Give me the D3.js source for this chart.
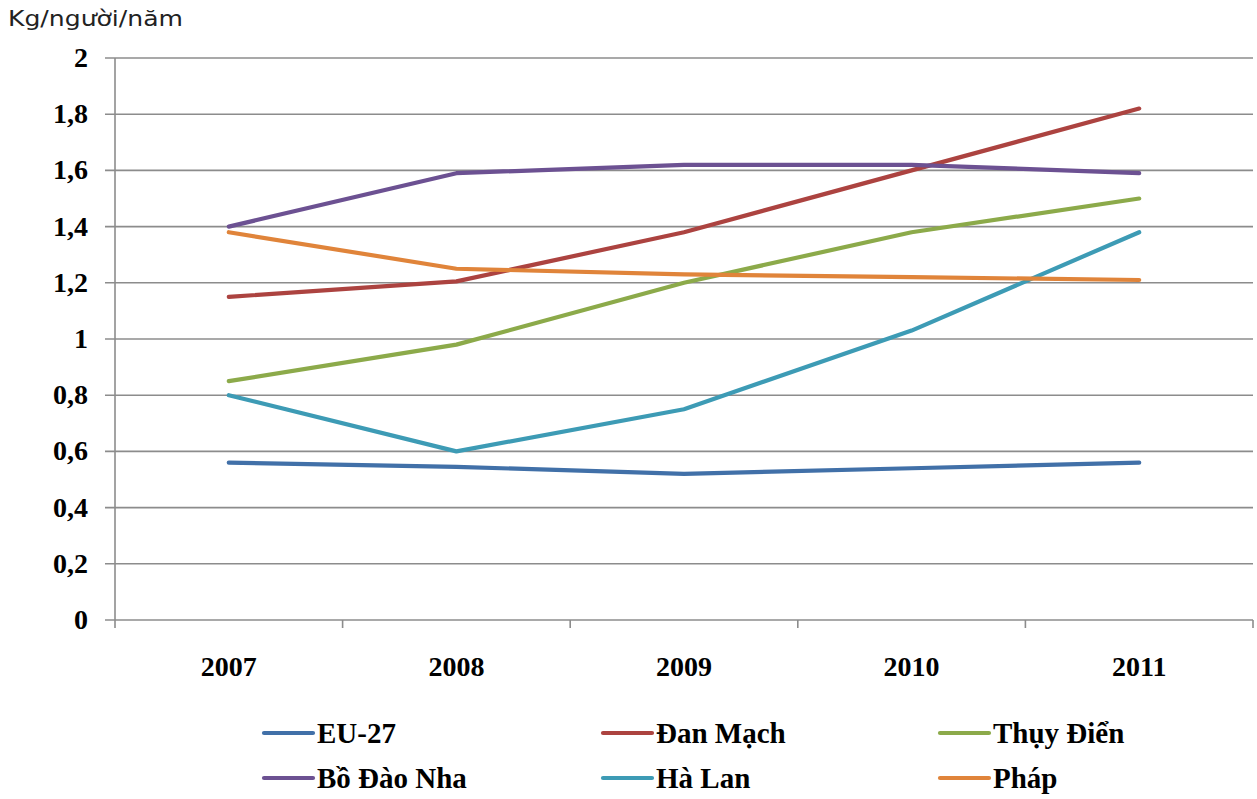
<!DOCTYPE html>
<html>
<head>
<meta charset="utf-8">
<script src="https://cdn.jsdelivr.net/npm/d3@7"></script>
<style>
  html, body { margin: 0; padding: 0; background: #fff; }
  svg { display: block; }
</style>
</head>
<body>
<svg id="chart" width="1257" height="799"></svg>
<script>
// Years on the category axis
const years = ["2007", "2008", "2009", "2010", "2011"];

// Consumption per person per year (kg)
const eu27      = [0.56, 0.545, 0.52, 0.54, 0.56];
const danMach   = [1.15, 1.205, 1.38, 1.60, 1.82];
const thuyDien  = [0.85, 0.98, 1.20, 1.38, 1.50];
const boDaoNha  = [1.40, 1.59, 1.62, 1.62, 1.59];
const haLan     = [0.80, 0.60, 0.75, 1.03, 1.38];
const phap      = [1.38, 1.25, 1.23, 1.22, 1.21];

// Series names and line colours
const seriesNames  = ["EU-27", "Đan Mạch", "Thụy Điển", "Bồ Đào Nha", "Hà Lan", "Pháp"];
const seriesValues = [eu27, danMach, thuyDien, boDaoNha, haLan, phap];
const seriesColors = ["#4170a8", "#ac4340", "#8caa4a", "#6c5192", "#3d9bb5", "#e0843a"];

// Value axis ticks
const yTicks = [0, 0.2, 0.4, 0.6, 0.8, 1, 1.2, 1.4, 1.6, 1.8, 2];
const yTickLabels = ["0", "0,2", "0,4", "0,6", "0,8", "1", "1,2", "1,4", "1,6", "1,8", "2"];

const svg = d3.select("#chart");
const plot = { left: 115, right: 1253, top: 58, bottom: 620 };

const x = d3.scaleBand().domain(years).range([plot.left, plot.right]).padding(0);
const y = d3.scaleLinear().domain([0, 2]).range([plot.bottom, plot.top]);

const serif = "'Liberation Serif', 'Times New Roman', serif";
const gridColor = "#8c8c8c";

// Unit label
svg.append("text")
  .attr("x", 8).attr("y", 26)
  .attr("font-family", "'DejaVu Sans Condensed', 'DejaVu Sans', sans-serif")
  .attr("font-size", 21)
  .attr("textLength", 175)
  .attr("lengthAdjust", "spacingAndGlyphs")
  .attr("fill", "#222")
  .text("Kg/người/năm");

// Horizontal gridlines with short ticks to the left of the axis
svg.append("g")
  .selectAll("line")
  .data(yTicks)
  .join("line")
  .attr("x1", plot.left - 10)
  .attr("x2", plot.right)
  .attr("y1", d => y(d))
  .attr("y2", d => y(d))
  .attr("stroke", gridColor)
  .attr("stroke-width", 1.6);

// Vertical value axis
svg.append("line")
  .attr("x1", plot.left).attr("x2", plot.left)
  .attr("y1", plot.top).attr("y2", plot.bottom)
  .attr("stroke", gridColor).attr("stroke-width", 1.6);

// Value tick labels
svg.append("g")
  .selectAll("text")
  .data(yTicks)
  .join("text")
  .attr("x", 88)
  .attr("y", d => y(d) + 9)
  .attr("text-anchor", "end")
  .attr("font-family", serif)
  .attr("font-weight", "bold")
  .attr("font-size", 28)
  .attr("fill", "#000")
  .text((d, i) => yTickLabels[i]);

// Category tick marks at band boundaries
const boundaries = years.map(d => x(d)).concat([plot.right]);
svg.append("g")
  .selectAll("line")
  .data(boundaries)
  .join("line")
  .attr("x1", d => d).attr("x2", d => d)
  .attr("y1", plot.bottom).attr("y2", plot.bottom + 8)
  .attr("stroke", gridColor).attr("stroke-width", 1.6);

// Category labels
svg.append("g")
  .selectAll("text")
  .data(years)
  .join("text")
  .attr("x", d => x(d) + x.bandwidth() / 2)
  .attr("y", 676)
  .attr("text-anchor", "middle")
  .attr("font-family", serif)
  .attr("font-weight", "bold")
  .attr("font-size", 28)
  .attr("fill", "#000")
  .text(d => d);

// Series lines
const line = d3.line()
  .x((d, i) => x(years[i]) + x.bandwidth() / 2)
  .y(d => y(d));

svg.append("g")
  .selectAll("path")
  .data(seriesValues)
  .join("path")
  .attr("d", d => line(d))
  .attr("fill", "none")
  .attr("stroke", (d, i) => seriesColors[i])
  .attr("stroke-width", 4.2)
  .attr("stroke-linecap", "round")
  .attr("stroke-linejoin", "round");

// Legend: three columns, two rows
const legendCols = [264, 603, 940];
const legendRows = [733, 778];
const legend = svg.append("g")
  .selectAll("g")
  .data(seriesNames)
  .join("g")
  .attr("transform", (d, i) => `translate(${legendCols[i % 3]},${legendRows[Math.floor(i / 3)]})`);

legend.append("line")
  .attr("x1", 0).attr("x2", 49)
  .attr("y1", 0).attr("y2", 0)
  .attr("stroke", (d, i) => seriesColors[i])
  .attr("stroke-width", 4.2)
  .attr("stroke-linecap", "round");

legend.append("text")
  .attr("x", 53)
  .attr("y", 10)
  .attr("font-family", serif)
  .attr("font-weight", "bold")
  .attr("font-size", 29)
  .attr("fill", "#000")
  .text(d => d);
</script>
</body>
</html>
